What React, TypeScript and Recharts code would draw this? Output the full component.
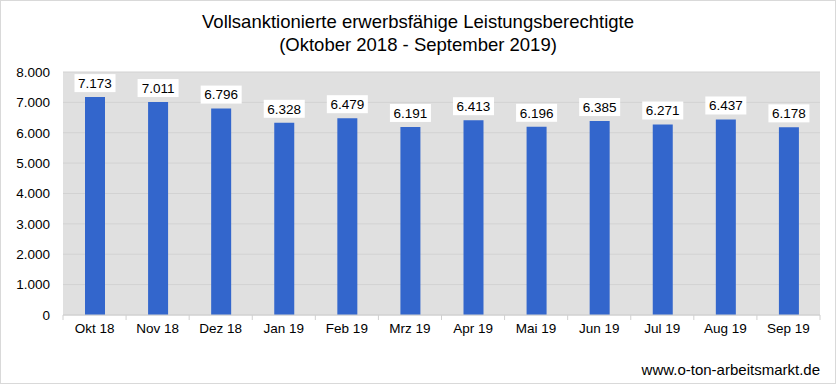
import React from 'react';
import { BarChart, Bar, XAxis, YAxis, CartesianGrid, LabelList } from 'recharts';

const months = ['Okt 18', 'Nov 18', 'Dez 18', 'Jan 19', 'Feb 19', 'Mrz 19', 'Apr 19', 'Mai 19', 'Jun 19', 'Jul 19', 'Aug 19', 'Sep 19'];
const values = [7173, 7011, 6796, 6328, 6479, 6191, 6413, 6196, 6385, 6271, 6437, 6178];
const yTicks = [0, 1000, 2000, 3000, 4000, 5000, 6000, 7000, 8000];
const titleLines = ['Vollsanktionierte erwerbsfähige Leistungsberechtigte', '(Oktober 2018 - September 2019)'];
const sourceText = 'www.o-ton-arbeitsmarkt.de';

const data = months.map((m, i) => ({ month: m, value: values[i] }));

const W = 836;
const H = 384;
const PLOT_LEFT = 63;
const PLOT_RIGHT = 820;
const PLOT_TOP = 72;
const PLOT_BOTTOM = 315;
const FONT = 'Arial, "Liberation Sans", sans-serif';

const fmt = (v: number) => String(Math.round(v)).replace(/\B(?=(\d{3})+(?!\d))/g, '.');

const band = (PLOT_RIGHT - PLOT_LEFT) / months.length;

const XTick = (props: any) => {
  const { x, y, payload, index } = props;
  const left = x - band / 2;
  return (
    <g>
      <line x1={left} y1={PLOT_BOTTOM} x2={left} y2={PLOT_BOTTOM + 5} stroke="#d0d0d0" />
      {index === months.length - 1 && (
        <line x1={left + band} y1={PLOT_BOTTOM} x2={left + band} y2={PLOT_BOTTOM + 5} stroke="#d0d0d0" />
      )}
      <text x={x} y={y + 10} textAnchor="middle" fontSize={13.5} fontFamily={FONT} fill="#000">
        {payload.value}
      </text>
    </g>
  );
};

const ValueLabel = (props: any) => {
  const { x, y, width, value } = props;
  const cx = x + width / 2;
  const w = 41;
  const h = 18;
  return (
    <g>
      <rect x={cx - w / 2} y={y - 5 - h} width={w} height={h} fill="#ffffff" />
      <text x={cx} y={y - 5 - h / 2} dy="0.36em" textAnchor="middle" fontSize={13.5} fontFamily={FONT} fill="#000">
        {fmt(value)}
      </text>
    </g>
  );
};

export default function App() {
  return (
    <div style={{ width: W, height: H, position: 'relative' }}>
      <style>{`body{margin:0;}`}</style>
      <BarChart
        width={W}
        height={H}
        data={data}
        margin={{ top: PLOT_TOP, right: W - PLOT_RIGHT, bottom: H - PLOT_BOTTOM - 30, left: 0 }}
        barCategoryGap={0}
      >
        <CartesianGrid vertical={false} fill="#e0e0e0" fillOpacity={1} stroke="#d2d2d2" />
        <XAxis
          dataKey="month"
          height={30}
          axisLine={{ stroke: '#d0d0d0' }}
          tickLine={false}
          tick={<XTick />}
          interval={0}
        />
        <YAxis
          width={PLOT_LEFT}
          domain={[0, 8000]}
          ticks={yTicks}
          axisLine={false}
          tickLine={false}
          tickMargin={7}
          tickFormatter={fmt}
          tick={{ fontSize: 13.5, fontFamily: FONT, fill: '#000' }}
        />
        <Bar dataKey="value" fill="#3366cc" barSize={20} isAnimationActive={false}>
          <LabelList dataKey="value" content={<ValueLabel />} />
        </Bar>
        <text x={W / 2} y={27.5} textAnchor="middle" fontSize={18.5} fontFamily={FONT} fill="#000">
          {titleLines[0]}
        </text>
        <text x={W / 2} y={50.5} textAnchor="middle" fontSize={18.5} fontFamily={FONT} fill="#000">
          {titleLines[1]}
        </text>
        <text x={PLOT_RIGHT} y={375} textAnchor="end" fontSize={15} fontFamily={FONT} fill="#000">
          {sourceText}
        </text>
      </BarChart>
      <div
        style={{
          position: 'absolute',
          left: 0,
          top: 0,
          width: W,
          height: H,
          boxSizing: 'border-box',
          border: '1px solid #d9d9d9',
          pointerEvents: 'none',
        }}
      />
    </div>
  );
}
